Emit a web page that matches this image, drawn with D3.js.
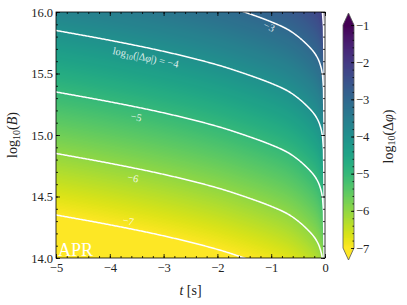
<!DOCTYPE html>
<html>
<head>
<meta charset="utf-8">
<script src="https://cdn.jsdelivr.net/npm/d3@7"></script>
<style>
  body { margin: 0; background: #fff; }
  svg { display: block; }
  text { font-family: "Liberation Serif", "DejaVu Serif", serif; fill: #222; }
</style>
</head>
<body>
<svg id="chart" width="407" height="305"></svg>
<script>
// t [s] samples and the log10(B) where log10|dphi| = -4
var tKnots  = [-5, -4, -3, -2, -1.5, -1, -0.7, -0.5, -0.3, -0.2, -0.12, -0.08, -0.05, -0.03, -0.015, -0.007, 0, 0.05];
var b4Knots = [15.85, 15.77, 15.68, 15.57, 15.5, 15.42, 15.36, 15.3, 15.22, 15.17, 15.11, 15.06, 15.0, 14.9, 14.6, 14.1, 13.0, 11.0];
// dphi ~ B^2, so one decade in dphi is half a decade in B
var bSlope = 2;
var levels = [-7, -6, -5, -4, -3, -2, -1];
var xTicks = [-5, -4, -3, -2, -1, 0];
var yTicks = [14.0, 14.5, 15.0, 15.5, 16.0];
var cbTicks = [-7, -6, -5, -4, -3, -2, -1];
var contourLabels = [
  { level: -3, t: -1.04, b: 15.88, angle: 25 },
  { level: -4, t: -3.33, b: 15.634, angle: 12, full: true },
  { level: -5, t: -3.51, b: 15.146, angle: 12 },
  { level: -6, t: -3.57, b: 14.65, angle: 12 },
  { level: -7, t: -3.66, b: 14.30, angle: 12 }
];

var svg = d3.select('#chart');
var L = 56, R = 325, T = 12, B = 258;

var x = d3.scaleLinear([-5, 0], [L, R]);
var y = d3.scaleLinear([14, 16], [B, T]);
var color = d3.scaleSequential(d3.interpolateViridis).domain([-1, -7]).clamp(true);

// smooth monotone curve through the read samples (Fritsch-Carlson)
function monotone(xs, ys) {
  var n = xs.length, d = [], m = [];
  for (var k = 0; k < n - 1; k++) d[k] = (ys[k + 1] - ys[k]) / (xs[k + 1] - xs[k]);
  m[0] = d[0]; m[n - 1] = d[n - 2];
  for (var k = 1; k < n - 1; k++) {
    m[k] = d[k - 1] * d[k] <= 0 ? 0 : 3 * (xs[k + 1] - xs[k - 1]) /
      ((2 * xs[k + 1] - xs[k] - xs[k - 1]) / d[k - 1] + (xs[k + 1] + xs[k] - 2 * xs[k - 1]) / d[k]);
  }
  var bis = d3.bisector(function(v) { return v; }).right;
  return function(t) {
    var k = Math.max(0, Math.min(n - 2, bis(xs, t) - 1));
    var hh = xs[k + 1] - xs[k], s = (t - xs[k]) / hh;
    var h00 = 2 * s * s * s - 3 * s * s + 1, h10 = s * s * s - 2 * s * s + s,
        h01 = -2 * s * s * s + 3 * s * s, h11 = s * s * s - s * s;
    return h00 * ys[k] + h10 * hh * m[k] + h01 * ys[k + 1] + h11 * hh * m[k + 1];
  };
}
var b4 = monotone(tKnots, b4Knots);

function field(t, b) {
  return -4 + bSlope * (b - b4(t));
}

// heat map, one sample per pixel
var w = R - L, h = B - T;
var canvas = document.createElement('canvas');
canvas.width = w; canvas.height = h;
var ctx = canvas.getContext('2d');
var img = ctx.createImageData(w, h);
for (var j = 0; j < h; j++) {
  var bv = y.invert(T + j + 0.5);
  for (var i = 0; i < w; i++) {
    var c = d3.rgb(color(field(x.invert(L + i + 0.5), bv)));
    var k = 4 * (j * w + i);
    img.data[k] = c.r; img.data[k + 1] = c.g; img.data[k + 2] = c.b; img.data[k + 3] = 255;
  }
}
ctx.putImageData(img, 0, 0);
svg.append('image')
  .attr('x', L).attr('y', T).attr('width', w).attr('height', h)
  .attr('preserveAspectRatio', 'none')
  .attr('href', canvas.toDataURL());

// contour lines on a grid a little larger than the plot, clipped
svg.append('clipPath').attr('id', 'plotclip')
  .append('rect').attr('x', L).attr('y', T).attr('width', w).attr('height', h);

var pad = 2;
var gx0 = L - pad, gy0 = T - pad;
var nx = w + 2 * pad, ny = h + 2 * pad;
var vals = new Float64Array(nx * ny);
for (var j = 0; j < ny; j++) {
  var bv = y.invert(gy0 + j + 0.5);
  for (var i = 0; i < nx; i++) {
    vals[j * nx + i] = field(x.invert(gx0 + i + 0.5), bv);
  }
}
var contours = d3.contours().size([nx, ny]).thresholds(levels)(vals);
var path = d3.geoPath(d3.geoTransform({
  point: function(px, py) { this.stream.point(px + gx0, py + gy0); }
}));
svg.append('g').attr('clip-path', 'url(#plotclip)')
  .selectAll('path').data(contours).enter().append('path')
  .attr('d', path)
  .attr('fill', 'none')
  .attr('stroke', '#fff')
  .attr('stroke-width', 1.5);

// contour labels
var fmt = d3.format('d');
var lab = svg.append('g').selectAll('text').data(contourLabels).enter().append('text')
  .attr('transform', function(d) { return 'translate(' + x(d.t) + ',' + y(d.b) + ') rotate(' + d.angle + ')'; })
  .attr('text-anchor', 'middle')
  .attr('dominant-baseline', 'central')
  .style('font-size', '10.5px')
  .style('fill', 'rgba(255,255,255,0.85)');
lab.each(function(d) {
  var s = d3.select(this);
  if (d.full) {
    s.append('tspan').text('log');
    s.append('tspan').attr('dy', 3).style('font-size', '7.5px').text('10');
    s.append('tspan').attr('dy', -3).text('(|Δ');
    s.append('tspan').style('font-style', 'italic').text('φ');
    s.append('tspan').text('|) = ' + fmt(d.level));
  } else {
    s.text(fmt(d.level));
  }
});

// APR tag
svg.append('text').attr('x', L + 2).attr('y', B - 2)
  .style('font-size', '18px').style('fill', '#fff').text('APR');

// frame
svg.append('rect').attr('x', L).attr('y', T).attr('width', w).attr('height', h)
  .attr('fill', 'none').attr('stroke', '#000').attr('stroke-width', 0.8);

// axes with inward ticks on all sides
function styleAxis(g) {
  g.select('.domain').remove();
  g.selectAll('line').attr('stroke', '#000').attr('stroke-width', 0.8);
  g.selectAll('text').style('font-size', '12.5px').style('fill', '#222')
    .style('font-family', '"Liberation Serif","DejaVu Serif",serif');
}
var xMinor = d3.range(-5, 0.0001, 0.2);
var yMinor = d3.range(14, 16.0001, 0.1);

svg.append('g').attr('transform', 'translate(0,' + B + ')')
  .call(d3.axisBottom(x).tickValues(xTicks).tickFormat(fmt).tickSizeInner(-4).tickSizeOuter(0).tickPadding(5))
  .call(styleAxis);
svg.append('g').attr('transform', 'translate(0,' + B + ')')
  .call(d3.axisBottom(x).tickValues(xMinor).tickFormat('').tickSizeInner(-2).tickSizeOuter(0))
  .call(styleAxis);
svg.append('g').attr('transform', 'translate(0,' + T + ')')
  .call(d3.axisTop(x).tickValues(xTicks).tickFormat('').tickSizeInner(-4).tickSizeOuter(0))
  .call(styleAxis);
svg.append('g').attr('transform', 'translate(0,' + T + ')')
  .call(d3.axisTop(x).tickValues(xMinor).tickFormat('').tickSizeInner(-2).tickSizeOuter(0))
  .call(styleAxis);

svg.append('g').attr('transform', 'translate(' + L + ',0)')
  .call(d3.axisLeft(y).tickValues(yTicks).tickFormat(d3.format('.1f')).tickSizeInner(-4).tickSizeOuter(0).tickPadding(3))
  .call(styleAxis);
svg.append('g').attr('transform', 'translate(' + L + ',0)')
  .call(d3.axisLeft(y).tickValues(yMinor).tickFormat('').tickSizeInner(-2).tickSizeOuter(0))
  .call(styleAxis);
svg.append('g').attr('transform', 'translate(' + R + ',0)')
  .call(d3.axisRight(y).tickValues(yTicks).tickFormat('').tickSizeInner(-4).tickSizeOuter(0))
  .call(styleAxis);
svg.append('g').attr('transform', 'translate(' + R + ',0)')
  .call(d3.axisRight(y).tickValues(yMinor).tickFormat('').tickSizeInner(-2).tickSizeOuter(0))
  .call(styleAxis);

// axis titles
var xt = svg.append('text').attr('x', (L + R) / 2).attr('y', 295)
  .attr('text-anchor', 'middle').style('font-size', '14px');
xt.append('tspan').style('font-style', 'italic').text('t');
xt.append('tspan').text(' [s]');

var yt = svg.append('text').attr('transform', 'translate(17,' + ((T + B) / 2) + ') rotate(-90)')
  .attr('text-anchor', 'middle').style('font-size', '14px');
yt.append('tspan').text('log');
yt.append('tspan').attr('dy', 3).style('font-size', '10px').text('10');
yt.append('tspan').attr('dy', -3).text('(');
yt.append('tspan').style('font-style', 'italic').text('B');
yt.append('tspan').text(')');

// colorbar
var cbL = 343, cbR = 354, cbTop = 25, cbBot = 248, tri = 12;
var cb = d3.scaleLinear([-7, -1], [cbBot, cbTop]);
var steps = d3.range(cbTop, cbBot, 1);
svg.append('g').selectAll('rect').data(steps).enter().append('rect')
  .attr('x', cbL).attr('y', function(d) { return d; })
  .attr('width', cbR - cbL).attr('height', 1.2)
  .attr('fill', function(d) { return color(cb.invert(d + 0.5)); });
var cx = (cbL + cbR) / 2;
svg.append('path')
  .attr('d', 'M' + cbL + ',' + cbTop + 'L' + cx + ',' + (cbTop - tri) + 'L' + cbR + ',' + cbTop + 'Z')
  .attr('fill', color(-1));
svg.append('path')
  .attr('d', 'M' + cbL + ',' + cbBot + 'L' + cx + ',' + (cbBot + tri) + 'L' + cbR + ',' + cbBot + 'Z')
  .attr('fill', color(-7));
svg.append('path')
  .attr('d', 'M' + cbL + ',' + cbTop + 'L' + cx + ',' + (cbTop - tri) + 'L' + cbR + ',' + cbTop +
             'L' + cbR + ',' + cbBot + 'L' + cx + ',' + (cbBot + tri) + 'L' + cbL + ',' + cbBot + 'Z')
  .attr('fill', 'none').attr('stroke', '#555').attr('stroke-width', 0.8);

svg.append('g').attr('transform', 'translate(' + cbR + ',0)')
  .call(d3.axisRight(cb).tickValues(cbTicks).tickFormat(fmt).tickSizeInner(-3).tickSizeOuter(0).tickPadding(2))
  .call(styleAxis);
svg.append('g').attr('transform', 'translate(' + cbR + ',0)')
  .call(d3.axisRight(cb).tickValues(d3.range(-7, -0.9999, 0.2)).tickFormat('').tickSizeInner(-1.5).tickSizeOuter(0))
  .call(styleAxis);

var ct = svg.append('text').attr('transform', 'translate(388,' + ((cbTop + cbBot) / 2) + ') rotate(-90)')
  .attr('text-anchor', 'middle').attr('dominant-baseline', 'central').style('font-size', '14px');
ct.append('tspan').text('log');
ct.append('tspan').attr('dy', 3).style('font-size', '10px').text('10');
ct.append('tspan').attr('dy', -3).text('(Δ');
ct.append('tspan').style('font-style', 'italic').text('φ');
ct.append('tspan').text(')');
</script>
</body>
</html>
